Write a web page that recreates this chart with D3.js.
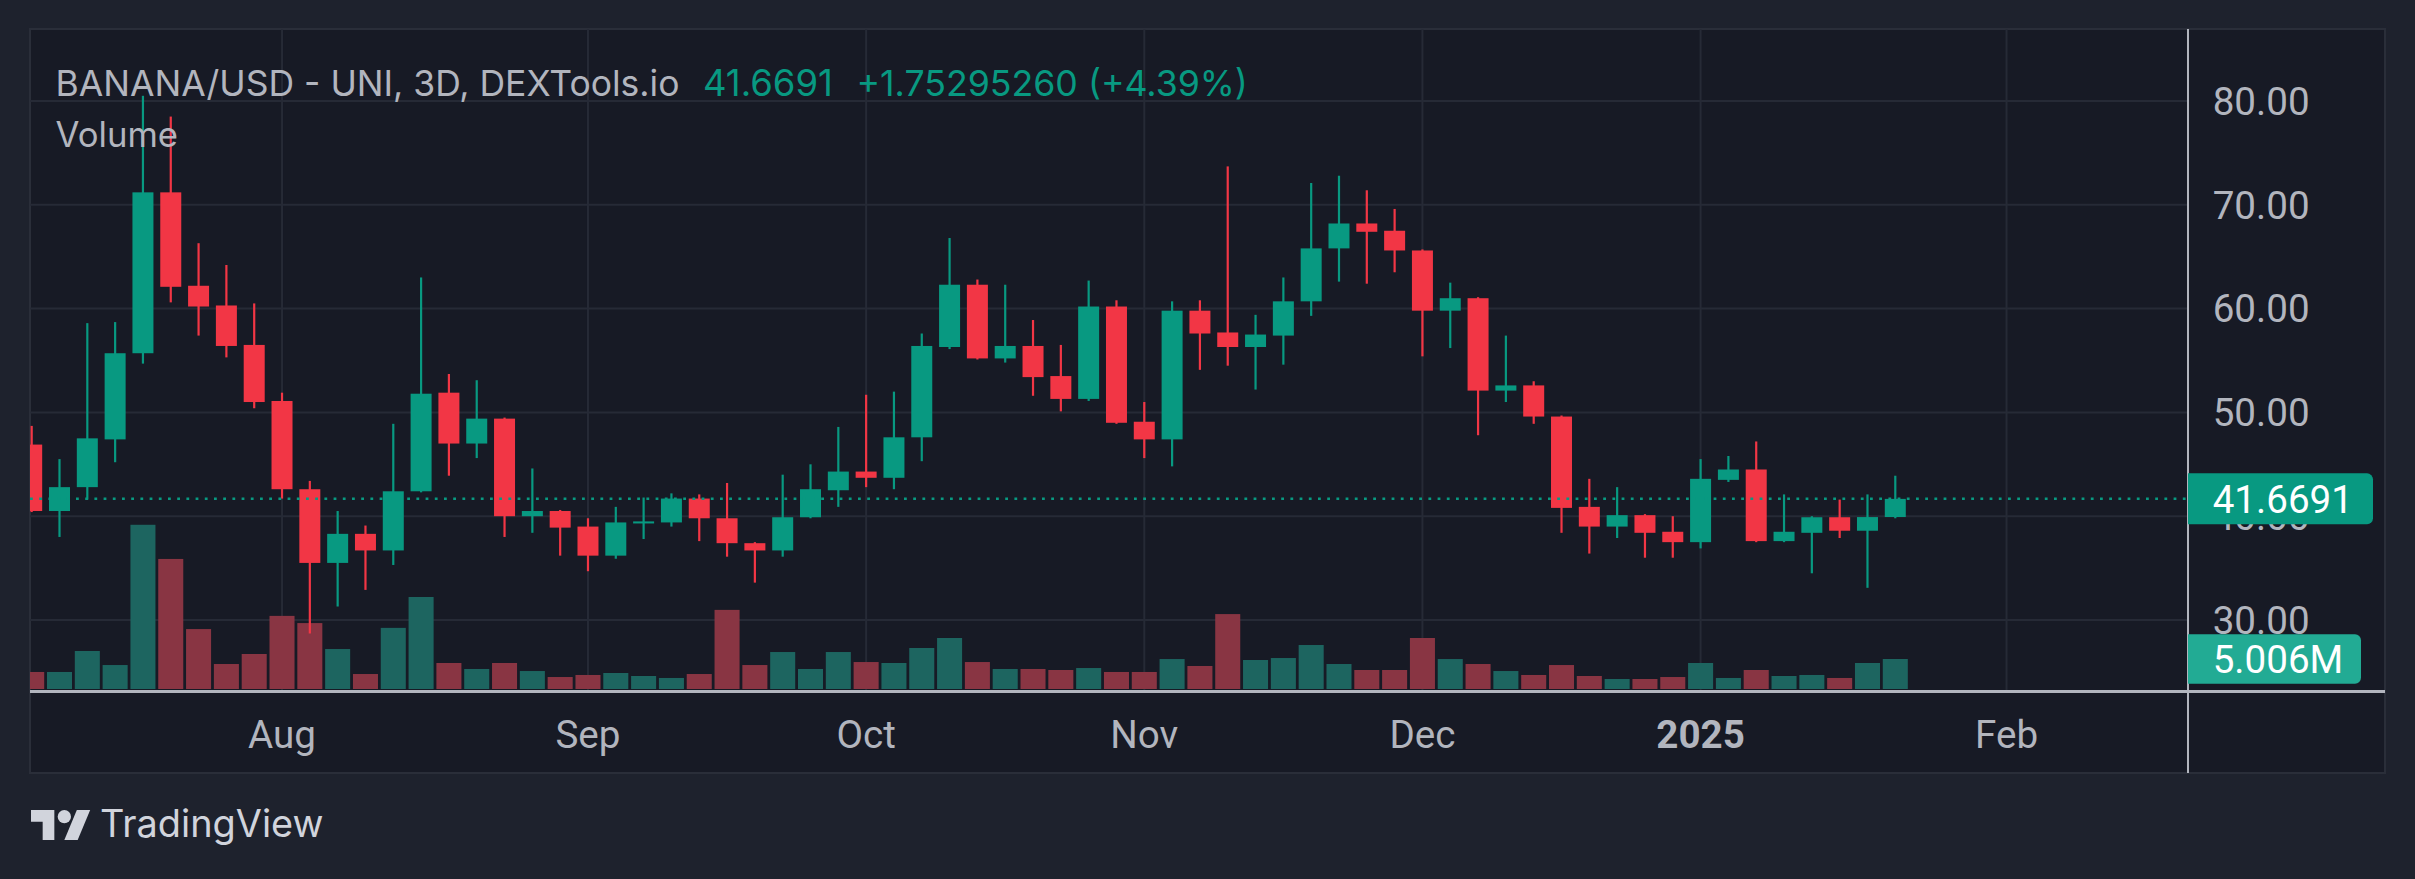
<!DOCTYPE html>
<html>
<head>
<meta charset="utf-8">
<script src="https://cdn.jsdelivr.net/npm/d3@7"></script>
<style>
  html, body { margin: 0; padding: 0; background: #1e222d; }
  svg { display: block; }
</style>
</head>
<body>
<svg id="chart" width="2415" height="879"></svg>
<script>
// ---------------- DATA (3D bars, BANANA/USD) ----------------
const dates = ["2024-07-05","2024-07-08","2024-07-11","2024-07-14","2024-07-17","2024-07-20","2024-07-23","2024-07-26","2024-07-29",
  "2024-08-01","2024-08-04","2024-08-07","2024-08-10","2024-08-13","2024-08-16","2024-08-19","2024-08-22","2024-08-25","2024-08-28","2024-08-31",
  "2024-09-03","2024-09-06","2024-09-09","2024-09-12","2024-09-15","2024-09-18","2024-09-21","2024-09-24","2024-09-27","2024-09-30",
  "2024-10-03","2024-10-06","2024-10-09","2024-10-12","2024-10-15","2024-10-18","2024-10-21","2024-10-24","2024-10-27","2024-10-30",
  "2024-11-02","2024-11-05","2024-11-08","2024-11-11","2024-11-14","2024-11-17","2024-11-20","2024-11-23","2024-11-26","2024-11-29",
  "2024-12-02","2024-12-05","2024-12-08","2024-12-11","2024-12-14","2024-12-17","2024-12-20","2024-12-23","2024-12-26","2024-12-29",
  "2025-01-01","2025-01-04","2025-01-07","2025-01-10","2025-01-13","2025-01-16","2025-01-19","2025-01-22"];
const open  = [46.9,40.5,42.8,47.4,55.7,71.2,62.2,60.3,56.5,51.1,42.6,35.5,38.3,36.7,42.4,51.9,47.0,49.4,40.0,40.5,
  39.0,36.2,39.3,39.4,41.7,39.8,37.4,36.7,39.9,42.5,44.3,43.7,47.6,56.3,62.3,55.2,56.4,53.5,51.3,60.2,
  49.1,47.4,59.8,57.7,56.3,57.4,60.7,65.8,68.2,67.5,65.6,59.8,61.0,52.1,52.6,49.6,40.9,39.0,40.1,38.5,
  37.5,43.5,44.5,37.6,38.4,39.9,38.6,39.92];
const high  = [48.7,45.5,58.6,58.7,80.5,78.5,66.3,64.2,60.5,51.9,43.4,40.5,39.1,48.9,63.0,53.7,53.1,49.5,44.6,40.6,
  39.8,40.9,41.8,42.2,42.1,43.2,37.5,44.0,45.0,48.6,51.7,52.0,57.6,66.8,62.8,62.3,58.9,56.5,62.7,60.8,
  51.0,60.7,60.8,73.7,59.4,63.0,72.1,72.8,71.4,69.6,65.7,62.5,61.1,57.4,53.0,49.7,43.6,42.8,40.2,40.0,
  45.5,45.8,47.2,42.1,40.0,41.6,42.1,43.9];
const low   = [40.4,38.0,41.6,45.2,54.7,60.6,57.4,55.3,50.4,41.7,28.7,31.3,32.9,35.3,42.3,43.9,45.6,38.0,38.4,36.2,
  34.7,35.9,37.8,39.0,37.6,36.1,33.6,36.1,39.8,40.9,42.8,42.6,45.3,56.1,55.1,54.8,51.6,50.1,51.1,48.9,
  45.6,44.8,54.1,54.5,52.2,54.6,59.3,62.6,62.4,63.5,55.4,56.2,47.8,51.0,48.9,38.4,36.4,37.9,36.0,36.0,
  36.9,43.3,37.5,37.5,34.5,37.9,33.1,39.8];
const close = [40.5,42.8,47.5,55.7,71.2,62.1,60.2,56.4,51.0,42.6,35.5,38.3,36.7,42.4,51.8,47.0,49.4,40.0,40.5,38.9,
  36.2,39.4,39.5,41.7,39.8,37.4,36.7,39.9,42.6,44.3,43.7,47.6,56.4,62.3,55.2,56.4,53.4,51.3,60.2,49.0,
  47.4,59.8,57.6,56.3,57.5,60.7,65.8,68.2,67.4,65.6,59.8,61.0,52.1,52.6,49.6,40.8,39.0,40.1,38.4,37.5,
  43.6,44.5,37.6,38.5,39.9,38.6,39.9161474,41.6691];
const volumeM = [2.84,2.84,6.34,4.0,27.4,21.7,10.0,4.17,5.84,12.2,11.0,6.67,2.5,10.2,15.35,4.34,3.34,4.34,3.0,2.0,
  2.34,2.67,2.17,1.84,2.5,13.2,4.0,6.17,3.34,6.17,4.5,4.34,6.84,8.51,4.5,3.34,3.34,3.17,3.5,2.84,
  2.84,5.0,3.84,12.5,4.84,5.17,7.34,4.17,3.17,3.17,8.51,5.0,4.17,3.0,2.34,4.0,2.17,1.67,1.67,2.0,
  4.34,1.84,3.17,2.17,2.34,1.84,4.34,5.006];
const priceTicks = [30, 40, 50, 60, 70, 80];
const timeTickDates  = ["2024-08-01","2024-09-03","2024-10-03","2024-11-02","2024-12-02","2025-01-01","2025-02-03"];
const timeTickLabels = ["Aug","Sep","Oct","Nov","Dec","2025","Feb"];
const titleText = "BANANA/USD - UNI, 3D, DEXTools.io";

// ---------------- STYLE ----------------
const C = {
  page: "#1e222d", pane: "#171a25", grid: "#262a36", border: "#2a2e39",
  axis: "#b2b5be", text: "#b2b5be", up: "#089981", down: "#f23645",
  volUp: "#1d6560", volDown: "#893543", volLabel: "#22ab94", logo: "#d1d4dc"
};
const pane = { x0: 30, x1: 2385, y0: 29, y1: 773 };
const plotRight = 2188, axisY = 691.5;

const parse = d3.utcParse("%Y-%m-%d");
const bars = dates.map((d, i) => ({ date: parse(d), o: open[i], h: high[i], l: low[i], c: close[i], v: volumeM[i] }));

const DAY = 864e5;
const x = d3.scaleUtc()
  .domain([new Date(+bars[1].date - 3.1817 * DAY), new Date(+bars[1].date + 229.57 * DAY)])
  .range([pane.x0, plotRight]);
const y = d3.scaleLinear().domain([30, 80]).range([620, 101]);
const yv = d3.scaleLinear().domain([0, 30]).range([689, 509.2]);

const step = x(bars[1].date) - x(bars[0].date);
const bodyW = step * 0.755, volW = step * 0.9, wickW = 2.2;

const svg = d3.select("#chart");
svg.append("rect").attr("width", 2415).attr("height", 879).attr("fill", C.page);
svg.append("rect").attr("x", pane.x0).attr("y", pane.y0)
  .attr("width", pane.x1 - pane.x0).attr("height", pane.y1 - pane.y0)
  .attr("fill", C.pane).attr("stroke", C.border).attr("stroke-width", 2);

const defs = svg.append("defs");
defs.append("clipPath").attr("id", "plotClip").append("rect")
  .attr("x", pane.x0).attr("y", pane.y0).attr("width", plotRight - pane.x0).attr("height", axisY - 1.5 - pane.y0);

// grid
const grid = svg.append("g");
grid.selectAll("line.h").data(priceTicks).join("line")
  .attr("x1", pane.x0).attr("x2", plotRight).attr("y1", d => y(d)).attr("y2", d => y(d))
  .attr("stroke", C.grid).attr("stroke-width", 2);
grid.selectAll("line.v").data(timeTickDates).join("line")
  .attr("x1", d => x(parse(d))).attr("x2", d => x(parse(d)))
  .attr("y1", pane.y0).attr("y2", axisY)
  .attr("stroke", C.grid).attr("stroke-width", 2);

const plot = svg.append("g").attr("clip-path", "url(#plotClip)");

// volume
plot.append("g").selectAll("rect").data(bars).join("rect")
  .attr("x", d => x(d.date) - volW / 2).attr("width", volW)
  .attr("y", d => yv(d.v)).attr("height", d => yv(0) - yv(d.v))
  .attr("fill", d => d.c >= d.o ? C.volUp : C.volDown);

// candles
const cg = plot.append("g").selectAll("g").data(bars).join("g")
  .attr("fill", d => d.c >= d.o ? C.up : C.down);
cg.append("rect")
  .attr("x", d => x(d.date) - wickW / 2).attr("width", wickW)
  .attr("y", d => y(d.h)).attr("height", d => y(d.l) - y(d.h));
cg.append("rect")
  .attr("x", d => x(d.date) - bodyW / 2).attr("width", bodyW)
  .attr("y", d => y(Math.max(d.o, d.c)))
  .attr("height", d => Math.max(1.5, Math.abs(y(d.o) - y(d.c))));

// last price dotted line
const last = bars[bars.length - 1], prev = bars[bars.length - 2];
svg.append("line")
  .attr("x1", pane.x0).attr("x2", plotRight).attr("y1", y(last.c)).attr("y2", y(last.c))
  .attr("stroke", C.up).attr("stroke-width", 2.5).attr("stroke-dasharray", "2.8,6.4");

// axes lines
svg.append("line").attr("x1", plotRight).attr("x2", plotRight).attr("y1", pane.y0).attr("y2", pane.y1)
  .attr("stroke", C.axis).attr("stroke-width", 2);
svg.append("line").attr("x1", pane.x0).attr("x2", pane.x1).attr("y1", axisY).attr("y2", axisY)
  .attr("stroke", C.axis).attr("stroke-width", 3);

// price axis labels
const AXF = "Roboto, 'Noto Sans', sans-serif";
svg.append("g").selectAll("text").data(priceTicks).join("text")
  .attr("x", 2212.7).attr("y", d => y(d)).attr("dy", "0.36em")
  .attr("font-family", AXF).attr("font-size", 38.6).attr("fill", C.text)
  .text(d => d.toFixed(2));

// time axis labels
svg.append("g").selectAll("text").data(timeTickDates).join("text")
  .attr("x", d => x(parse(d))).attr("y", 748).attr("text-anchor", "middle")
  .attr("font-family", AXF).attr("font-size", 38.6).attr("fill", C.text)
  .attr("font-weight", (d, i) => timeTickLabels[i] === "2025" ? 700 : 400)
  .text((d, i) => timeTickLabels[i]);

// label boxes
function roundRight(x0, y0, x1, y1, r) {
  const p = d3.path();
  p.moveTo(x0, y0); p.lineTo(x1 - r, y0); p.arcTo(x1, y0, x1, y0 + r, r);
  p.lineTo(x1, y1 - r); p.arcTo(x1, y1, x1 - r, y1, r); p.lineTo(x0, y1); p.closePath();
  return p.toString();
}
const yl = y(last.c);
svg.append("path").attr("d", roundRight(plotRight, yl - 25.5, 2373, yl + 25.5, 6)).attr("fill", C.up);
svg.append("text").attr("x", 2212.7).attr("y", yl).attr("dy", "0.36em")
  .attr("font-family", AXF).attr("font-size", 38.6).attr("fill", "#ffffff").text(last.c.toFixed(4));
const yvl = yv(last.v);
svg.append("path").attr("d", roundRight(plotRight, yvl - 24.7, 2361, yvl + 24.7, 6)).attr("fill", C.volLabel);
svg.append("text").attr("x", 2212.7).attr("y", yvl).attr("dy", "0.36em")
  .attr("font-family", AXF).attr("font-size", 38.6).attr("fill", "#ffffff").text(last.v.toFixed(3) + "M");

// redraw axis line over boxes' left edge
svg.append("line").attr("x1", plotRight).attr("x2", plotRight).attr("y1", axisY).attr("y2", pane.y1)
  .attr("stroke", C.axis).attr("stroke-width", 2);

// title legend
const TF = "Inter, Roboto, sans-serif";
function fit(sel, target) {
  const w = sel.node().getComputedTextLength();
  const fs = parseFloat(sel.attr("font-size"));
  sel.attr("font-size", fs * target / w);
}
const chg = last.c - prev.c, pct = chg / prev.c * 100;
const t1 = svg.append("text").attr("x", 55.6).attr("y", 96).attr("font-family", TF)
  .attr("font-size", 34).attr("fill", C.text).text(titleText);
fit(t1, 624);
const t2 = svg.append("text").attr("x", 703).attr("y", 96).attr("font-family", TF)
  .attr("font-size", 34).attr("fill", C.up).text(last.c.toFixed(4));
fit(t2, 130);
const t3 = svg.append("text").attr("x", 856.5).attr("y", 96).attr("font-family", TF)
  .attr("font-size", 34).attr("fill", C.up)
  .text((chg >= 0 ? "+" : "") + chg.toFixed(8) + " (" + (pct >= 0 ? "+" : "") + pct.toFixed(2) + "%)");
fit(t3, 391.5);
const t4 = svg.append("text").attr("x", 55.6).attr("y", 146.7).attr("font-family", TF)
  .attr("font-size", 34).attr("fill", C.text).text("Volume");
fit(t4, 122.5);

// TradingView logo
const logo = svg.append("g").attr("transform", "translate(31,803.3) scale(1.667)").attr("fill", C.logo);
logo.append("path").attr("d", "M14 22H7V11H0V4h14v18z");
logo.append("circle").attr("cx", 20).attr("cy", 8).attr("r", 4);
logo.append("path").attr("d", "M28 22h-8l7.5-18h8L28 22z");
const t5 = svg.append("text").attr("x", 100).attr("y", 836.7).attr("font-family", TF)
  .attr("font-size", 36).attr("fill", C.logo).text("TradingView");
fit(t5, 223.6);
</script>
</body>
</html>
